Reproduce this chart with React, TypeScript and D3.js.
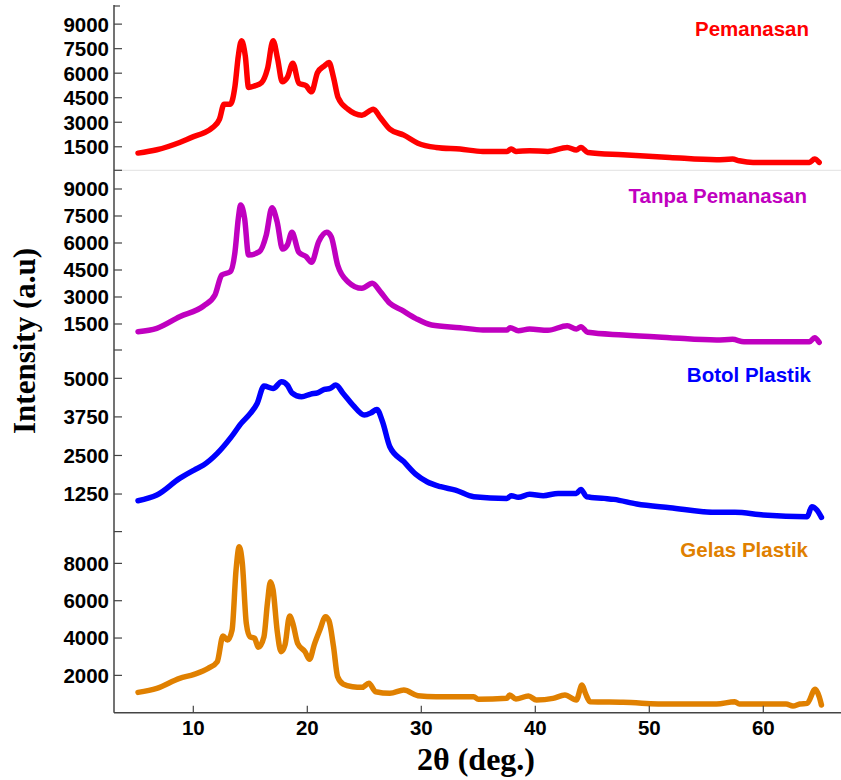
import React from "react";
import * as d3 from "d3";

const W = 841;
const H = 780;

// 2θ values and intensities
const pemanasanX = [5.15, 6.8, 8.8, 10.07, 10.9, 11.7, 12.3, 12.7, 13.25, 13.66, 13.95, 14.23, 14.56, 14.85, 15.38, 16.0, 16.5, 17.0, 17.4, 17.8, 18.25, 18.73, 19.26, 19.9, 20.37, 20.9, 21.5, 21.9, 22.3, 22.7, 23.56, 24.79, 25.8, 26.4, 27.24, 28.47, 29.7, 31.3, 33.4, 35.4, 37.5, 37.9, 38.3, 39.5, 41.1, 42.8, 43.6, 44.0, 44.6, 47.7, 51.8, 55.9, 57.3, 57.9, 59.1, 64.05, 64.5, 64.9];
const pemanasanY = [1113, 1316, 1763, 2133, 2337, 2680, 3190, 4108, 4108, 5230, 7060, 7980, 7060, 5125, 5226, 5430, 6250, 7980, 6860, 5470, 5740, 6615, 5390, 5230, 4860, 6040, 6450, 6650, 5740, 4515, 3800, 3434, 3800, 3290, 2578, 2210, 1720, 1460, 1357, 1215, 1215, 1357, 1215, 1255, 1215, 1460, 1295, 1460, 1153, 1010, 848, 705, 746, 644, 542, 542, 746, 542];

const tanpaX = [5.15, 6.8, 8.8, 10.9, 11.9, 12.5, 13.25, 13.66, 13.95, 14.15, 14.5, 14.85, 15.8, 16.4, 16.9, 17.35, 17.83, 18.25, 18.65, 19.26, 19.9, 20.37, 21.0, 21.7, 22.1, 22.66, 23.56, 24.79, 25.7, 26.4, 27.24, 28.26, 29.5, 30.9, 33.4, 35.4, 37.5, 37.8, 38.5, 39.5, 41.1, 42.8, 43.6, 44.0, 44.6, 47.7, 51.8, 55.9, 57.3, 58.3, 64.05, 64.5, 64.9];
const tanpaY = [1074, 1260, 1907, 2500, 3111, 4222, 4408, 5519, 7370, 8111, 7370, 5333, 5519, 6444, 7963, 7185, 5667, 5889, 6593, 5481, 5241, 4926, 6074, 6593, 6352, 4778, 3852, 3481, 3760, 3296, 2648, 2278, 1815, 1444, 1296, 1167, 1167, 1296, 1130, 1222, 1148, 1407, 1222, 1352, 1037, 889, 741, 611, 648, 518, 518, 741, 481];

const botolX = [5.15, 6.8, 8.8, 10.07, 10.9, 12.1, 13.3, 14.2, 15.0, 15.6, 16.2, 17.0, 17.75, 18.25, 18.65, 19.5, 20.3, 20.9, 21.5, 22.0, 22.5, 23.15, 24.0, 25.0, 25.6, 26.1, 26.6, 27.24, 28.47, 29.5, 30.5, 31.7, 33.0, 34.6, 37.5, 37.9, 38.5, 39.5, 40.7, 42.0, 43.6, 44.0, 44.5, 46.05, 46.9, 48.9, 51.8, 55.9, 57.5, 60.0, 63.85, 64.25, 64.7, 65.1];
const botolY = [1034, 1217, 1757, 2027, 2190, 2567, 3086, 3540, 3863, 4187, 4750, 4672, 4888, 4780, 4532, 4403, 4490, 4532, 4640, 4672, 4780, 4510, 4133, 3810, 3885, 3993, 3592, 2783, 2297, 1897, 1649, 1487, 1379, 1163, 1109, 1196, 1142, 1239, 1196, 1271, 1271, 1401, 1163, 1109, 1077, 926, 807, 656, 656, 569, 515, 839, 731, 493];

const gelasX = [5.15, 6.8, 8.8, 10.07, 11.3, 12.1, 12.6, 13.0, 13.4, 13.75, 14.03, 14.3, 14.65, 14.97, 15.38, 15.7, 16.2, 16.5, 16.77, 17.0, 17.35, 17.7, 18.04, 18.45, 18.73, 19.15, 19.8, 20.2, 20.6, 21.1, 21.6, 21.9, 22.3, 22.66, 23.15, 23.97, 24.8, 25.4, 26.0, 27.24, 28.47, 29.7, 31.3, 34.6, 35.0, 37.5, 37.75, 38.3, 39.4, 40.1, 41.55, 42.6, 43.6, 44.1, 44.4, 44.8, 47.7, 51.8, 55.9, 57.5, 57.9, 62.0, 62.6, 63.2, 63.85, 64.55, 64.9, 65.1];
const gelasY = [1089, 1304, 1840, 2054, 2375, 2733, 4108, 3893, 4429, 7644, 8894, 8000, 4786, 4072, 3983, 3500, 4072, 5858, 7019, 6572, 4429, 3268, 3626, 5179, 4786, 3715, 3268, 2858, 3626, 4429, 5144, 4929, 3536, 1929, 1536, 1393, 1357, 1572, 1125, 1036, 1214, 911, 857, 857, 714, 768, 947, 732, 893, 679, 768, 947, 679, 1482, 1036, 589, 554, 464, 464, 589, 464, 464, 357, 464, 500, 1250, 857, 411];

const seriesNames = ["Pemanasan", "Tanpa Pemanasan", "Botol Plastik", "Gelas Plastik"];
const seriesColors = ["#ff0000", "#c000c0", "#0000ff", "#e08000"];

const panel1Ticks = [1500, 3000, 4500, 6000, 7500, 9000];
const panel2Ticks = [1500, 3000, 4500, 6000, 7500, 9000];
const panel3Ticks = [1250, 2500, 3750, 5000];
const panel4Ticks = [2000, 4000, 6000, 8000];
const xTicks = [10, 20, 30, 40, 50, 60];

const xTitle = "2θ (deg.)";
const yTitle = "Intensity (a.u)";

// layout
const axisX = 114;
const axisTop = 5;
const axisBottom = 712.7;
const rightEdge = 841;

const panels = [
  { xs: pemanasanX, ys: pemanasanY, ticks: panel1Ticks, bottom: 171.3, top: axisTop, max: 10170, label: { x: 809, y: 35.5 } },
  { xs: tanpaX, ys: tanpaY, ticks: panel2Ticks, bottom: 351, top: 171.3, max: 9983, label: { x: 807, y: 203 } },
  { xs: botolX, ys: botolY, ticks: panel3Ticks, bottom: 532.6, top: 351, max: 5886, label: { x: 811, y: 381.5 } },
  { xs: gelasX, ys: gelasY, ticks: panel4Ticks, bottom: axisBottom, top: 532.6, max: 9649, label: { x: 808, y: 557 } },
];

const sans = "'Liberation Sans', Arial, Helvetica, sans-serif";
const serif = "'Liberation Serif', 'Times New Roman', Times, serif";

export default function App() {
  const x = d3.scaleLinear().domain([10, 60]).range([193.3, 763.3]);
  const axisColor = "#444";

  return (
    <svg width={W} height={H} style={{ position: "absolute", left: 0, top: 0, background: "#fff" }}>
      <rect x={0} y={0} width={W} height={H} fill="#fff" />
      {/* separator */}
      <line x1={axisX} x2={rightEdge} y1={170.3} y2={170.3} stroke="#e2e2e2" strokeWidth={1} />

      {panels.map((p, i) => {
        const y = d3.scaleLinear().domain([0, p.max]).range([p.bottom, p.top]);
        const pts = p.xs.map((v, j) => [v, p.ys[j]] as [number, number]);
        const line = d3
          .line<[number, number]>()
          .x((d) => x(d[0]))
          .y((d) => y(d[1]))
          .curve(d3.curveMonotoneX);
        return (
          <g key={i}>
            <path
              d={line(pts) || ""}
              fill="none"
              stroke={seriesColors[i]}
              strokeWidth={5.5}
              strokeLinejoin="round"
              strokeLinecap="round"
            />
            {p.ticks.map((t) => (
              <g key={t}>
                <line x1={axisX} x2={axisX + 8} y1={y(t)} y2={y(t)} stroke={axisColor} strokeWidth={1.2} />
                <text
                  x={109}
                  y={y(t)}
                  dy="0.36em"
                  textAnchor="end"
                  fontFamily={sans}
                  fontWeight="bold"
                  fontSize={20.5}
                  fill="#000"
                >
                  {t}
                </text>
              </g>
            ))}
            {i < 3 && (
              <line x1={axisX} x2={axisX + 8} y1={y(0) - 1} y2={y(0) - 1} stroke={axisColor} strokeWidth={1.2} />
            )}
            <text
              x={p.label.x}
              y={p.label.y}
              textAnchor="end"
              fontFamily={sans}
              fontWeight="bold"
              fontSize={20.5}
              fill={seriesColors[i]}
            >
              {seriesNames[i]}
            </text>
          </g>
        );
      })}

      {/* top tick */}
      <line x1={axisX} x2={axisX + 6} y1={axisTop + 1} y2={axisTop + 1} stroke={axisColor} strokeWidth={1.2} />
      {/* axes */}
      <line x1={axisX} x2={axisX} y1={axisTop} y2={axisBottom} stroke={axisColor} strokeWidth={1.5} />
      <line x1={axisX} x2={rightEdge} y1={axisBottom} y2={axisBottom} stroke={axisColor} strokeWidth={1.5} />

      {xTicks.map((t) => (
        <g key={t}>
          <line x1={x(t)} x2={x(t)} y1={axisBottom} y2={axisBottom - 7} stroke={axisColor} strokeWidth={1.2} />
          <text
            x={x(t)}
            y={735}
            textAnchor="middle"
            fontFamily={sans}
            fontWeight="bold"
            fontSize={20.5}
            fill="#000"
          >
            {t}
          </text>
        </g>
      ))}

      <text x={476} y={770} textAnchor="middle" fontFamily={serif} fontWeight="bold" fontSize={32} fill="#000">
        {xTitle}
      </text>
      <text
        transform="translate(35,341) rotate(-90)"
        textAnchor="middle"
        fontFamily={serif}
        fontWeight="bold"
        fontSize={31}
        fill="#000"
      >
        {yTitle}
      </text>
    </svg>
  );
}
